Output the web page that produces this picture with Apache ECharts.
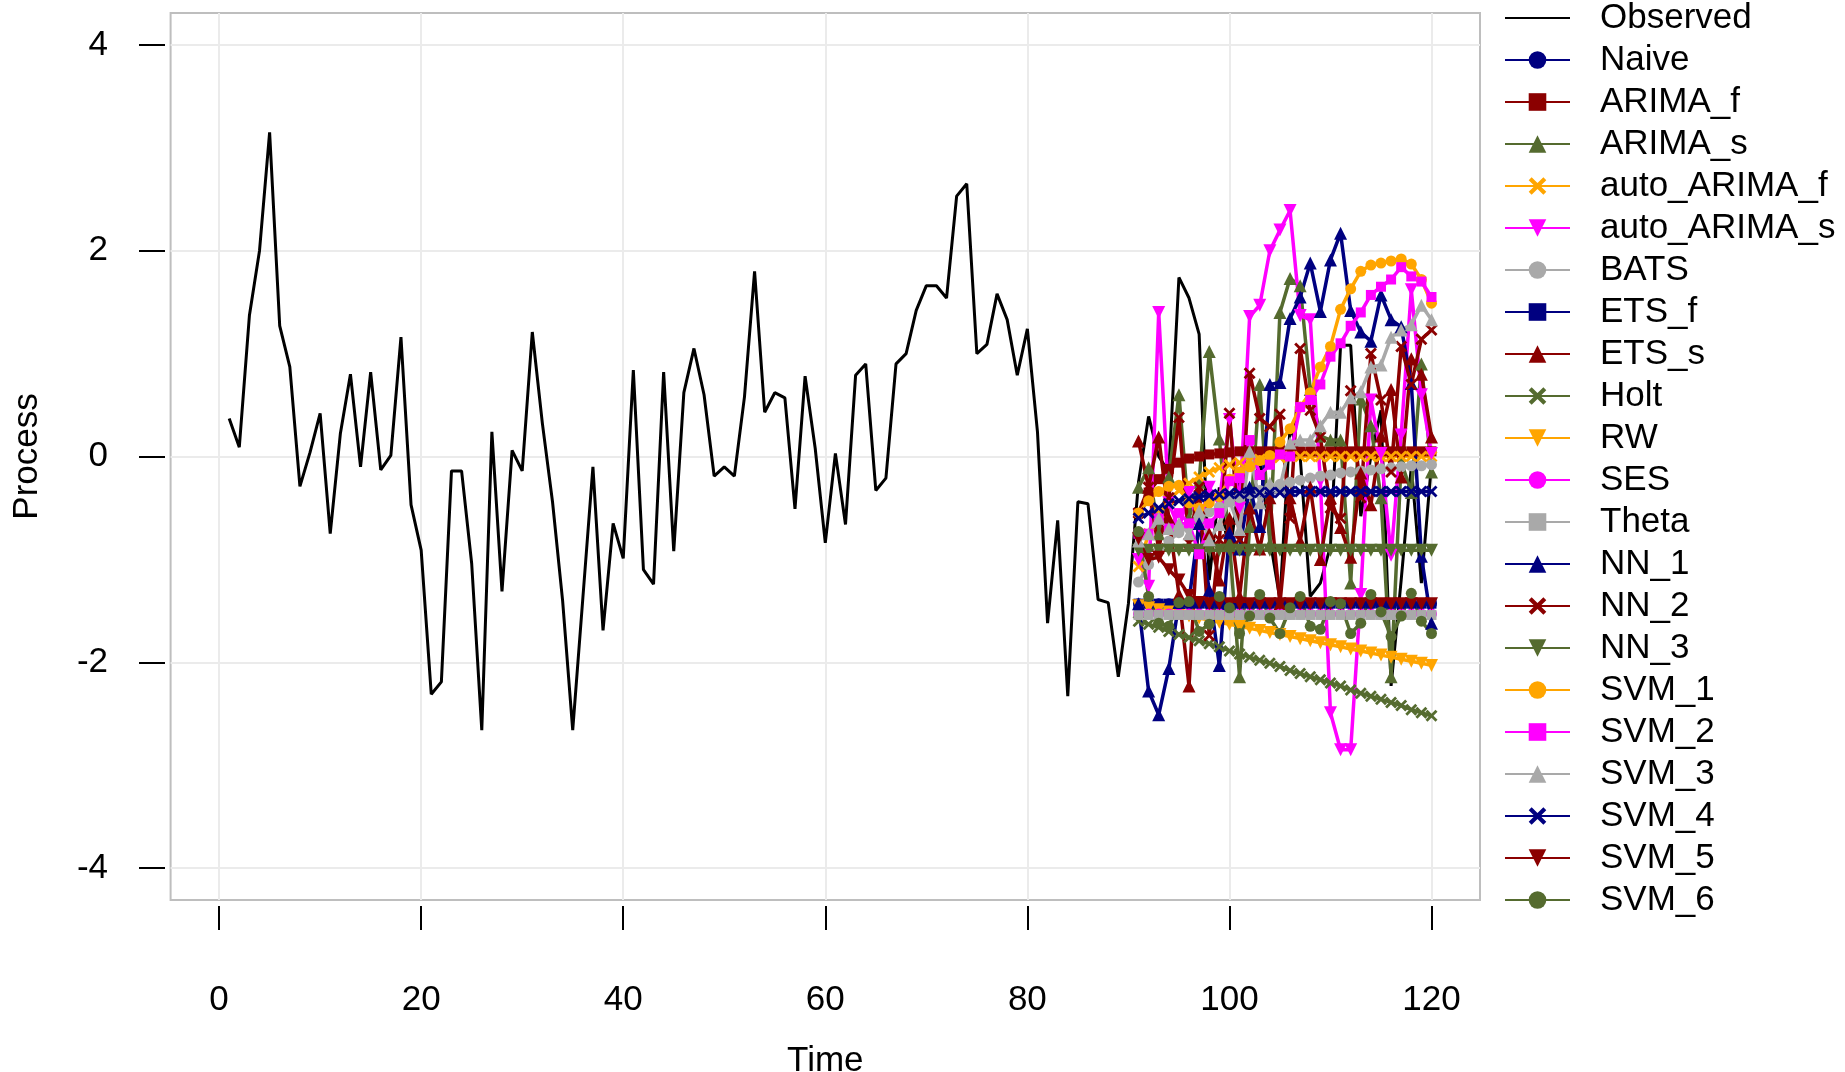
<!DOCTYPE html>
<html>
<head>
<meta charset="utf-8">
<title>Forecasts</title>
<script src="https://cdn.jsdelivr.net/npm/echarts@6/dist/echarts.min.js"></script>
<style>
  html, body { margin: 0; padding: 0; background: #fff; }
  #main { width: 1845px; height: 1072px; }
</style>
</head>
<body>
<div id="main"></div>
<script>
// observed process, t = 1..120
var observed = [0.37, 0.09, 1.37, 2.00, 3.15, 1.27, 0.87, -0.29, 0.04, 0.42,
  -0.75, 0.22, 0.80, -0.10, 0.82, -0.13, 0.01, 1.16, -0.47, -0.91,
  -2.31, -2.19, -0.14, -0.14, -1.04, -2.66, 0.24, -1.31, 0.06, -0.14,
  1.21, 0.32, -0.44, -1.40, -2.66, -1.38, -0.10, -1.69, -0.65, -0.99,
  0.84, -1.10, -1.24, 0.82, -0.92, 0.62, 1.05, 0.60, -0.19, -0.10,
  -0.19, 0.58, 1.80, 0.43, 0.62, 0.57, -0.51, 0.78, 0.08, -0.84,
  0.03, -0.66, 0.79, 0.90, -0.33, -0.21, 0.90, 1.00, 1.42, 1.66,
  1.66, 1.54, 2.53, 2.65, 1.00, 1.09, 1.58, 1.33, 0.79, 1.24,
  0.24, -1.62, -0.62, -2.33, -0.44, -0.46, -1.39, -1.42, -2.14, -1.43,
  -0.25, 0.39, 0.00, -0.15, 1.74, 1.54, 1.19, -1.20, -0.30, -1.00,
  -0.20, -0.60, 0.00, -0.80, -1.39, 0.29, 0.00, -1.36, -1.23, -0.87,
  1.08, 1.08, -0.58, 0.00, 0.45, -2.23, -1.20, -0.10, -1.23, -0.07];

// forecasts, t = 91..120
var fcStart = 91;
var naive = [-1.43, -1.43, -1.43, -1.43, -1.43, -1.43, -1.43, -1.43, -1.43, -1.43,
  -1.43, -1.43, -1.43, -1.43, -1.43, -1.43, -1.43, -1.43, -1.43, -1.43,
  -1.43, -1.43, -1.43, -1.43, -1.43, -1.43, -1.43, -1.43, -1.43, -1.43];
var arimaF = [-0.55, -0.35, -0.22, -0.12, -0.06, -0.02, 0.00, 0.02, 0.03, 0.04,
  0.05, 0.05, 0.05, 0.05, 0.05, 0.05, 0.05, 0.05, 0.05, 0.05,
  0.05, 0.05, 0.05, 0.05, 0.05, 0.05, 0.05, 0.05, 0.05, 0.05];
var arimaS = [-0.30, -0.11, -0.75, -0.20, 0.60, -0.60, -0.25, 1.02, 0.17, -0.84,
  -2.14, -0.68, 0.70, -0.85, 1.40, 1.73, 1.66, 0.65, 0.20, 0.16,
  0.16, -1.23, 0.56, 0.30, -0.40, -2.14, -0.05, -0.35, 0.90, -0.15];
var autoArimaF = [-1.07, -0.75, -0.55, -0.42, -0.33, -0.26, -0.20, -0.15, -0.11, -0.08,
  -0.06, -0.04, -0.03, -0.02, -0.01, 0.00, 0.00, 0.00, 0.00, 0.00,
  0.00, 0.00, 0.00, 0.00, 0.00, 0.00, 0.00, 0.00, 0.00, 0.00];
var autoArimaS = [-1.00, -1.26, 1.40, -0.45, -0.70, -0.35, -0.68, -0.30, -0.45, 0.36,
  -0.50, 1.36, 1.47, 2.00, 2.20, 2.39, 1.37, 1.33, -0.24, -2.49,
  -2.85, -2.85, -1.34, 0.55, 0.03, -0.96, 0.21, 1.62, 0.60, 0.03];
var bats = [-1.22, -1.05, -0.92, -0.82, -0.74, -0.67, -0.60, -0.54, -0.49, -0.44,
  -0.40, -0.36, -0.33, -0.30, -0.27, -0.25, -0.23, -0.21, -0.19, -0.18,
  -0.16, -0.15, -0.14, -0.13, -0.12, -0.11, -0.10, -0.09, -0.09, -0.08];
var etsF = [-1.43, -1.43, -1.43, -1.43, -1.43, -1.43, -1.43, -1.43, -1.43, -1.43,
  -1.43, -1.43, -1.43, -1.43, -1.43, -1.43, -1.43, -1.43, -1.43, -1.43,
  -1.43, -1.43, -1.43, -1.43, -1.43, -1.43, -1.43, -1.43, -1.43, -1.43];
var etsS = [0.15, -0.30, 0.19, -0.60, -1.34, -2.23, -0.50, -0.75, -1.20, -0.60,
  -1.36, -0.50, -0.90, -0.40, -1.43, -0.40, -0.82, -0.30, -1.00, -0.40,
  -0.69, -0.98, -0.16, -0.47, 0.20, 0.65, -0.20, 0.95, 0.80, 0.19];
var holt = [-1.60, -1.63, -1.66, -1.70, -1.73, -1.76, -1.79, -1.82, -1.85, -1.89,
  -1.92, -1.95, -1.98, -2.01, -2.04, -2.08, -2.11, -2.14, -2.17, -2.20,
  -2.23, -2.27, -2.30, -2.33, -2.36, -2.39, -2.42, -2.46, -2.49, -2.52];
var rw = [-1.45, -1.47, -1.49, -1.51, -1.53, -1.55, -1.57, -1.59, -1.61, -1.63,
  -1.65, -1.67, -1.69, -1.71, -1.73, -1.75, -1.77, -1.79, -1.81, -1.83,
  -1.85, -1.87, -1.89, -1.91, -1.93, -1.95, -1.97, -1.99, -2.01, -2.03];
var ses = [-1.53, -1.53, -1.53, -1.53, -1.53, -1.53, -1.53, -1.53, -1.53, -1.53,
  -1.53, -1.53, -1.53, -1.53, -1.53, -1.53, -1.53, -1.53, -1.53, -1.53,
  -1.53, -1.53, -1.53, -1.53, -1.53, -1.53, -1.53, -1.53, -1.53, -1.53];
var theta = [-1.54, -1.54, -1.54, -1.54, -1.54, -1.54, -1.54, -1.54, -1.54, -1.54,
  -1.54, -1.54, -1.54, -1.54, -1.54, -1.54, -1.54, -1.54, -1.54, -1.54,
  -1.54, -1.54, -1.54, -1.54, -1.54, -1.54, -1.54, -1.54, -1.54, -1.54];
var nn1 = [-1.43, -2.28, -2.51, -2.06, -1.42, -1.40, -0.65, -1.30, -2.03, -0.74,
  -0.90, -0.30, -0.68, 0.70, 0.72, 1.34, 1.55, 1.88, 1.41, 1.91,
  2.17, 1.42, 1.21, 1.12, 1.57, 1.33, 1.26, 0.71, -0.97, -1.62];
var nn2 = [-0.55, -0.30, -0.90, -0.40, 0.38, -0.84, -0.30, -1.74, -0.81, 0.42,
  -0.81, 0.81, 0.37, 0.29, 0.41, -0.60, 1.05, 0.45, 0.19, -0.50,
  -0.60, 0.64, -0.40, 1.00, 0.55, -0.15, 1.07, 0.70, 1.14, 1.23];
var nn3 = [-0.91, -0.91, -0.91, -0.91, -0.91, -0.91, -0.91, -0.91, -0.91, -0.91,
  -0.91, -0.91, -0.91, -0.91, -0.91, -0.91, -0.91, -0.91, -0.91, -0.91,
  -0.91, -0.91, -0.91, -0.91, -0.91, -0.91, -0.91, -0.91, -0.91, -0.91];
var svm1 = [-0.55, -0.43, -0.34, -0.29, -0.28, -0.45, -0.50, -0.45, -0.39, -0.22,
  -0.15, -0.10, -0.04, 0.01, 0.14, 0.27, 0.48, 0.62, 0.87, 1.07,
  1.43, 1.63, 1.80, 1.86, 1.88, 1.90, 1.92, 1.87, 1.72, 1.49];
var svm2 = [-0.75, -0.75, -0.60, -0.70, -0.55, -0.65, -0.95, -0.65, -0.55, -0.24,
  -0.21, 0.16, -0.18, -0.08, 0.02, 0.00, 0.48, 0.55, 0.70, 0.97,
  1.10, 1.27, 1.40, 1.57, 1.65, 1.72, 1.84, 1.75, 1.70, 1.55];
var svm3 = [-0.82, -0.75, -0.60, -0.70, -0.65, -0.75, -0.53, -0.81, -0.66, -0.42,
  -0.71, 0.05, -0.45, -0.26, -0.30, 0.13, 0.16, 0.16, 0.30, 0.43,
  0.43, 0.57, 0.63, 0.87, 0.89, 1.16, 1.23, 1.28, 1.47, 1.33];
var svm4 = [-0.60, -0.55, -0.50, -0.46, -0.43, -0.41, -0.39, -0.38, -0.37, -0.36,
  -0.36, -0.35, -0.35, -0.35, -0.35, -0.34, -0.34, -0.34, -0.34, -0.34,
  -0.34, -0.34, -0.34, -0.34, -0.34, -0.34, -0.34, -0.34, -0.34, -0.34];
var svm5 = [-0.80, -1.00, -0.98, -1.10, -1.20, -1.35, -1.42, -1.43, -1.43, -1.43,
  -1.43, -1.43, -1.43, -1.43, -1.43, -1.43, -1.43, -1.43, -1.43, -1.43,
  -1.43, -1.43, -1.43, -1.43, -1.43, -1.43, -1.43, -1.43, -1.43, -1.43];
var svm6 = [-0.73, -1.36, -1.62, -1.65, -1.42, -1.41, -1.70, -1.63, -1.36, -1.47,
  -1.72, -1.55, -1.34, -1.57, -1.72, -1.47, -1.36, -1.65, -1.68, -1.41,
  -1.43, -1.72, -1.62, -1.34, -1.51, -1.75, -1.55, -1.33, -1.60, -1.72];

var methods = ['Naive', 'ARIMA_f', 'ARIMA_s', 'auto_ARIMA_f', 'auto_ARIMA_s', 'BATS', 'ETS_f',
  'ETS_s', 'Holt', 'RW', 'SES', 'Theta', 'NN_1', 'NN_2', 'NN_3',
  'SVM_1', 'SVM_2', 'SVM_3', 'SVM_4', 'SVM_5', 'SVM_6'];
var forecastValues = [naive, arimaF, arimaS, autoArimaF, autoArimaS, bats, etsF,
  etsS, holt, rw, ses, theta, nn1, nn2, nn3,
  svm1, svm2, svm3, svm4, svm5, svm6];

var xTicks = [0, 20, 40, 60, 80, 100, 120];
var yTicks = [-4, -2, 0, 2, 4];

// R-like palette and plotting symbols, both recycled
var palette = ['#000080', '#8B0000', '#556B2F', '#FFA500', '#FF00FF', '#A9A9A9'];
var crossPath = 'path://M0,2 L2,0 L6,4 L10,0 L12,2 L8,6 L12,10 L10,12 L6,8 L2,12 L0,10 L4,6 Z';
var downTri = 'path://M0,0 L10,0 L5,9 Z';
var symbols = ['circle', 'rect', 'triangle', crossPath, downTri];
var symbolSizes = [11, 10, 13, 12, 13];

var FONT = 'Liberation Sans, Arial, sans-serif';

var series = [{
  name: 'Observed',
  type: 'line',
  data: observed.map(function (v, i) { return [i + 1, v]; }),
  symbol: 'none',
  lineStyle: { color: '#000', width: 3 },
  itemStyle: { color: '#000' }
}];

methods.forEach(function (m, k) {
  var col = palette[k % palette.length];
  series.push({
    name: m,
    type: 'line',
    data: forecastValues[k].map(function (v, i) { return [fcStart + i, v]; }),
    symbol: symbols[k % symbols.length],
    symbolSize: symbolSizes[k % symbols.length],
    showSymbol: true,
    showAllSymbol: true,
    lineStyle: { color: col, width: 3.5 },
    itemStyle: { color: col, borderWidth: 0 }
  });
});

var legendData = [{ name: 'Observed', itemStyle: { opacity: 0 } }].concat(methods);

var chart = echarts.init(document.getElementById('main'));
chart.setOption({
  animation: false,
  backgroundColor: '#fff',
  textStyle: { fontFamily: FONT },
  grid: {
    left: 170.6, top: 13, width: 1309.4, height: 887,
    show: true, borderColor: '#BEBEBE', borderWidth: 2,
    containLabel: false, outerBoundsMode: 'none'
  },
  legend: {
    orient: 'vertical',
    left: 1504, top: 0.5,
    padding: 0,
    itemWidth: 65, itemHeight: 22, itemGap: 7,
    lineStyle: { width: 2 },
    textStyle: { fontSize: 35, lineHeight: 34, color: '#000', fontFamily: FONT, padding: [0, 0, 0, 25] },
    data: legendData
  },
  xAxis: {
    type: 'value', min: -4.8, max: 124.8, splitNumber: 6, offset: 6,
    name: 'Time', nameLocation: 'middle', nameGap: 138,
    nameTextStyle: { fontSize: 35, color: '#000', fontFamily: FONT },
    axisLine: { show: false, onZero: false },
    axisTick: { show: true, length: 24, customValues: xTicks, lineStyle: { color: '#000', width: 2 } },
    axisLabel: { customValues: xTicks, margin: 77, fontSize: 35, color: '#000', fontFamily: FONT },
    splitLine: { show: true, lineStyle: { color: '#EBEBEB', width: 2 } }
  },
  yAxis: {
    type: 'value', min: -4.31, max: 4.31, splitNumber: 4, offset: 5.6,
    name: 'Process', nameLocation: 'middle', nameGap: 120,
    nameTextStyle: { fontSize: 35, color: '#000', fontFamily: FONT },
    axisLine: { show: false, onZero: false },
    axisTick: { show: true, length: 26, customValues: yTicks, lineStyle: { color: '#000', width: 2 } },
    axisLabel: { customValues: yTicks, margin: 57, fontSize: 35, color: '#000', fontFamily: FONT },
    splitLine: { show: true, lineStyle: { color: '#EBEBEB', width: 2 } }
  },
  series: series
});
</script>
</body>
</html>
